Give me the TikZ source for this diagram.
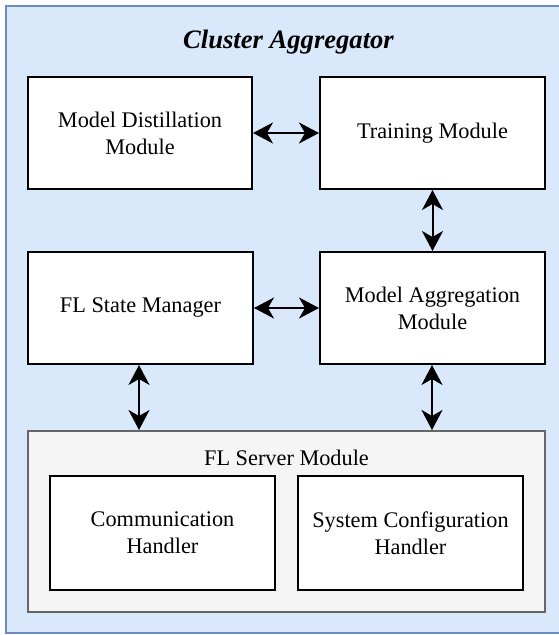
\documentclass[tikz,border=0pt]{standalone}
\usepackage{fontspec}
\setmainfont{Liberation Serif}
\usetikzlibrary{arrows.meta}
\definecolor{outerfill}{HTML}{DAE8FC}
\definecolor{outerline}{HTML}{6C8EBF}
\definecolor{srvfill}{HTML}{F5F5F5}
\definecolor{srvline}{HTML}{666666}
\tikzset{
  modbox/.style={draw=black, line width=2pt, fill=white, align=center,
    inner sep=0pt, font=\fontsize{22.3}{26.8}\selectfont},
  biarrow/.style={line width=2pt, {Stealth[length=20pt,width=21pt,inset=6pt]}-{Stealth[length=20pt,width=21pt,inset=6pt]}},
}
\begin{document}
\begin{tikzpicture}[x=1pt,y=-1pt]
\useasboundingbox (0,0) rectangle (559,635);
\fill[white] (0,0) rectangle (559,635);
\node[draw=outerline, fill=outerfill, line width=2pt, minimum width=562pt, minimum height=627.5pt, anchor=north west, inner sep=0pt, outer sep=0pt] (outer) at (5.5,5.5) {};
\node[font=\fontsize{26.6}{32}\selectfont\bfseries\itshape] (title) at (288.5,42) {Cluster Aggregator};

\node[modbox, minimum width=224pt, minimum height=112pt] (md) at (140,133) {Model Distillation\\Module};
\node[modbox, minimum width=225pt, minimum height=112pt] (tm) at (432.5,133) {Training Module};
\node[modbox, minimum width=225pt, minimum height=112pt] (fsm) at (140.5,308) {FL State Manager};
\node[modbox, minimum width=225pt, minimum height=112pt] (ma) at (432.5,308) {Model Aggregation\\Module};

\node[draw=srvline, fill=srvfill, line width=2pt, minimum width=517pt, minimum height=181pt, inner sep=0pt] (fls) at (286.5,521.5) {};
\node[font=\fontsize{22.3}{26.8}\selectfont] (flslabel) at (286.5,458) {FL Server Module};
\node[modbox, minimum width=225pt, minimum height=114pt] (ch) at (162.5,533) {Communication\\Handler};
\node[modbox, minimum width=225pt, minimum height=114pt] (sc) at (410.5,533) {System Configuration\\Handler};

\draw[biarrow] (md.east) -- (tm.west);
\draw[biarrow] (fsm.east) -- (ma.west);
\draw[biarrow] (tm.south) -- (ma.north);
\draw[biarrow] ([xshift=-1.5pt]fsm.south) -- ([xshift=-1.5pt]fsm.south |- fls.north);
\draw[biarrow] ([xshift=-0.5pt]ma.south) -- ([xshift=-0.5pt]ma.south |- fls.north);
\end{tikzpicture}
\end{document}
